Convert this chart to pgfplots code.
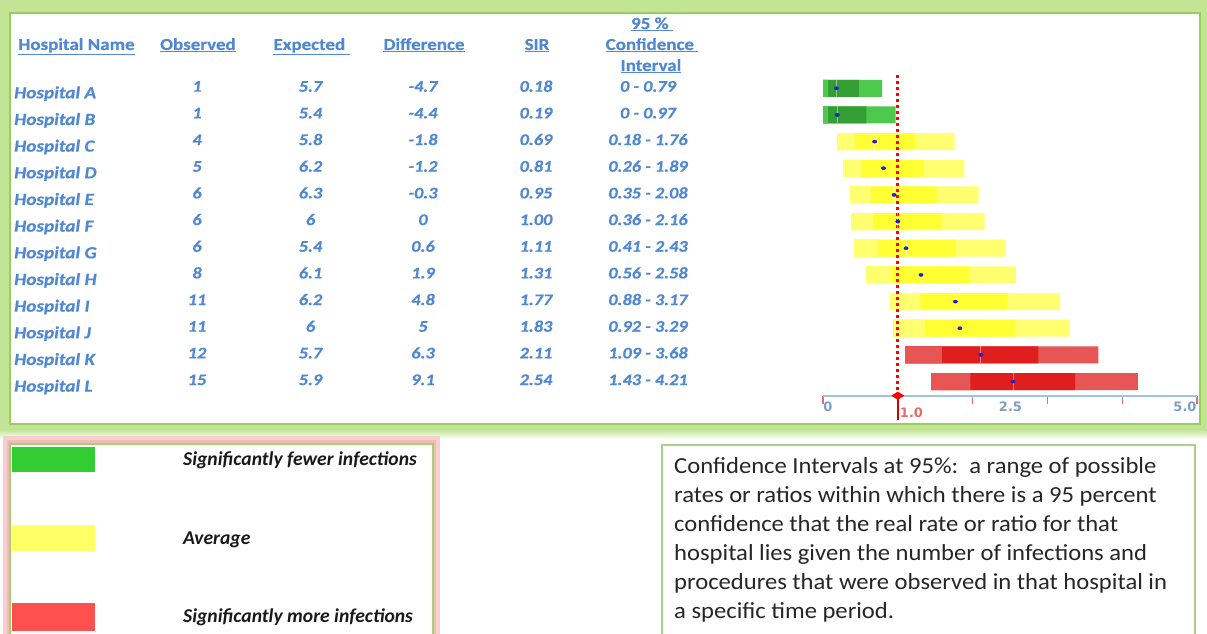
\documentclass[border=0pt]{standalone}
\usepackage{pgfplots}
\pgfplotsset{compat=1.18}
\usepackage{pgfplotstable}
\usepackage{fontspec}
\setmainfont{Carlito}
\newfontfamily\tabfont[FakeStretch=1.13, BoldFeatures={FakeBold=0.5}, BoldItalicFeatures={FakeBold=0.5}]{Carlito}
\newfontfamily\boxfont[FakeStretch=1.07]{Carlito}
\newfontfamily\axfont{DejaVu Sans}

\definecolor{tabblue}{RGB}{80,136,210}
\definecolor{framegreen}{RGB}{194,228,148}
\definecolor{frameline}{RGB}{150,208,90}
\definecolor{legline}{RGB}{160,212,110}
\definecolor{pinkglow}{RGB}{244,186,186}
\definecolor{boxline}{RGB}{169,209,142}
\definecolor{gLight}{RGB}{77,201,77}
\definecolor{gDark}{RGB}{51,158,51}
\definecolor{yLight}{RGB}{255,255,112}
\definecolor{yDark}{RGB}{255,255,51}
\definecolor{rLight}{RGB}{232,85,85}
\definecolor{rDark}{RGB}{224,30,30}
\definecolor{dotblue}{RGB}{30,30,210}
\definecolor{axisblue}{RGB}{157,195,230}
\definecolor{tickred}{RGB}{226,110,110}
\definecolor{ticklab}{RGB}{125,158,195}
\definecolor{swG}{RGB}{51,204,51}
\definecolor{swY}{RGB}{255,255,102}
\definecolor{swR}{RGB}{255,80,80}

% y = row position (A = 12 ... L = 1); lo/hi = 95% CI, ilo/ihi = inner band
\pgfplotstableread{
y  lo   ilo  sir  ihi  hi
12 0    0.07 0.18 0.48 0.79
11 0    0.07 0.19 0.58 0.97
}\greentab
\pgfplotstableread{
y  lo   ilo  sir  ihi  hi
10 0.18 0.43 0.69 1.23 1.76
9  0.26 0.51 0.81 1.35 1.89
8  0.35 0.64 0.95 1.52 2.08
7  0.36 0.67 1.00 1.58 2.16
6  0.41 0.74 1.11 1.77 2.43
5  0.56 0.92 1.31 1.95 2.58
4  0.88 1.30 1.77 2.46 3.17
3  0.92 1.36 1.83 2.57 3.29
}\yellowtab
\pgfplotstableread{
y  lo   ilo  sir  ihi  hi
2  1.09 1.59 2.11 2.88 3.68
1  1.43 1.97 2.54 3.37 4.21
}\redtab

\pgfplotsset{
  sepline/.style={only marks, mark=|, mark size=8.5bp, mark options={draw=white, draw opacity=0.45, line width=0.8bp}},
  sirdot/.style={only marks, mark=*, mark size=1.6bp, mark options={fill=dotblue, draw=dotblue, xscale=1.35}},
  blank/.style={xbar, fill=white, draw=white, line width=0.5bp, bar width=21bp},
}

\begin{document}
\begin{tikzpicture}
\useasboundingbox (0,0) rectangle (1207bp,634bp);
\clip (0,0) rectangle (1207bp,634bp);
\begin{scope}[x=1bp,y=-1bp,yshift=634bp]
  % top frame
  \fill[framegreen] (0,0) rectangle (1207,430);
  \shade[top color=framegreen, bottom color=white] (0,429.5) rectangle (1207,439);
  \fill[white] (10,13) rectangle (1200,424);
  \draw[frameline, line width=1.5bp] (10,13) rectangle (1200,424);
  % legend box
  \draw[pinkglow!70, line width=7bp] (7,440) rectangle (436,648);
  \draw[pinkglow, line width=3bp] (8.5,442) rectangle (434.5,645);
  \draw[legline, line width=1.5bp] (10,444) rectangle (433,645);
  \fill[swG] (12,447) rectangle (95,472);
  \fill[swY] (12,525) rectangle (95,551);
  \fill[swR] (12,603) rectangle (95,631);
  \begin{scope}[every node/.style={anchor=base west, inner sep=0pt, font=\fontsize{19.6bp}{23bp}\selectfont\bfseries\itshape, text=black!90}]
    \node at (183,466) {Significantly fewer infections};
    \node at (183,545) {Average};
    \node at (183,623) {Significantly more infections};
  \end{scope}
  % text box
  \draw[boxline, line width=2bp] (662,445) rectangle (1195,650);
  \begin{scope}[every node/.style={anchor=base west, inner sep=0pt, font=\boxfont\fontsize{23bp}{28bp}\selectfont, text=black!85}]
    \node at (674,474) {Confidence Intervals at 95\%:\ \ a range of possible};
    \node at (674,503) {rates or ratios within which there is a 95 percent};
    \node at (674,532) {confidence that the real rate or ratio for that};
    \node at (674,561) {hospital lies given the number of infections and};
    \node at (674,590) {procedures that were observed in that hospital in};
    \node at (674,619) {a specific time period.};
  \end{scope}
  % table header
  \begin{scope}[every node/.style={anchor=base, inner sep=0pt, text=tabblue, font=\tabfont\fontsize{16.8bp}{20bp}\selectfont\bfseries}]
    \node at (76.5,50) {\underline{Hospital Name}};
    \node at (198,50) {\underline{Observed}};
    \node at (311.5,50) {\underline{Expected\ }};
    \node at (424,50) {\underline{Difference}};
    \node at (537,50) {\underline{SIR}};
    \node at (652,29) {\underline{95 \%\ }};
    \node at (652,50) {\underline{Confidence\ }};
    \node at (651,71) {\underline{Interval}};
  \end{scope}
  % table rows
  \foreach \nm/\ob/\ex/\df/\sr/\ci [count=\i from 0] in {
      A/1/5.7/-4.7/0.18/0 - 0.79,
      B/1/5.4/-4.4/0.19/0 - 0.97,
      C/4/5.8/-1.8/0.69/0.18 - 1.76,
      D/5/6.2/-1.2/0.81/0.26 - 1.89,
      E/6/6.3/-0.3/0.95/0.35 - 2.08,
      F/6/6/0/1.00/0.36 - 2.16,
      G/6/5.4/0.6/1.11/0.41 - 2.43,
      H/8/6.1/1.9/1.31/0.56 - 2.58,
      I/11/6.2/4.8/1.77/0.88 - 3.17,
      J/11/6/5/1.83/0.92 - 3.29,
      K/12/5.7/6.3/2.11/1.09 - 3.68,
      L/15/5.9/9.1/2.54/1.43 - 4.21}{
    \pgfmathsetmacro\yn{98.3+\i*26.67}
    \pgfmathsetmacro\yv{91.7+\i*26.67}
    \begin{scope}[every node/.style={inner sep=0pt, text=tabblue, font=\tabfont\fontsize{16.2bp}{19bp}\selectfont\bfseries\itshape}]
      \node[anchor=base west] at (14,\yn) {\fontsize{17bp}{19bp}\selectfont Hospital \nm};
      \node[anchor=base] at (197,\yv) {\ob};
      \node[anchor=base] at (310.5,\yv) {\ex};
      \node[anchor=base] at (423,\yv) {\df};
      \node[anchor=base] at (536,\yv) {\sr};
      \node[anchor=base] at (648,\yv) {\ci};
    \end{scope}
  }
\end{scope}

\begin{axis}[
  at={(823bp,238.3bp)}, anchor=south west,
  scale only axis, width=374bp, height=334.1bp,
  xmin=0, xmax=5, ymin=0.47, ymax=13,
  axis y line=none, axis x line*=bottom,
  x axis line style={-, draw=axisblue, line width=2bp},
  xtick={0,1,2,3,4,5}, xticklabels={},
  tick align=outside, major tick length=8bp,
  xtick style={draw=tickred, line width=1.3bp},
  ytick=\empty, clip=false,
  every axis plot/.append style={bar width=17bp, bar shift=0pt},
]
  % green (painter's order: outer, inner, outer, blank)
  \addplot[xbar, fill=gLight, draw=none] table[x=hi, y=y] {\greentab};
  \addplot[xbar, fill=gDark, draw=none] table[x=ihi, y=y] {\greentab};
  \addplot[xbar, fill=gLight, draw=none] table[x=ilo, y=y] {\greentab};
  % yellow
  \addplot[xbar, fill=yLight, draw=none] table[x=hi, y=y] {\yellowtab};
  \addplot[xbar, fill=yDark, draw=none] table[x=ihi, y=y] {\yellowtab};
  \addplot[xbar, fill=yLight, draw=none] table[x=ilo, y=y] {\yellowtab};
  \addplot[blank] table[x=lo, y=y] {\yellowtab};
  % red
  \addplot[xbar, fill=rLight, draw=none] table[x=hi, y=y] {\redtab};
  \addplot[xbar, fill=rDark, draw=none] table[x=ihi, y=y] {\redtab};
  \addplot[xbar, fill=rLight, draw=none] table[x=ilo, y=y] {\redtab};
  \addplot[blank] table[x=lo, y=y] {\redtab};
  % SIR separators and points
  \addplot[sepline] table[x=sir, y=y] {\greentab};
  \addplot[sepline] table[x=sir, y=y] {\yellowtab};
  \addplot[sepline] table[x=sir, y=y] {\redtab};
  \addplot[sirdot] table[x=sir, y=y] {\greentab};
  \addplot[sirdot] table[x=sir, y=y] {\yellowtab};
  \addplot[sirdot] table[x=sir, y=y] {\redtab};
  % reference line at SIR = 1
  \addplot[red, line width=3bp, dash pattern=on 3bp off 3bp] coordinates {(1,12.5) (1,0.47)};
  \addplot[red!85!black, line width=1.8bp] coordinates {(1,0.47) (1,-0.45)};
  \addplot[only marks, mark=diamond*, mark size=5bp, red, mark options={xscale=1.6, yscale=0.75}] coordinates {(1,0.47)};
\end{axis}

\begin{scope}[x=1bp,y=-1bp,yshift=634bp]
  \begin{scope}[every node/.style={inner sep=0pt, font=\axfont\fontsize{13bp}{15bp}\selectfont\bfseries, text=ticklab}]
    \node[anchor=center] at (828,407) {0};
    \node[anchor=center] at (1010.5,407) {2.5};
    \node[anchor=center] at (1185,407) {5.0};
    \node[anchor=center, text=tickred] at (911.5,413) {1.0};
  \end{scope}
\end{scope}
\end{tikzpicture}
\end{document}
